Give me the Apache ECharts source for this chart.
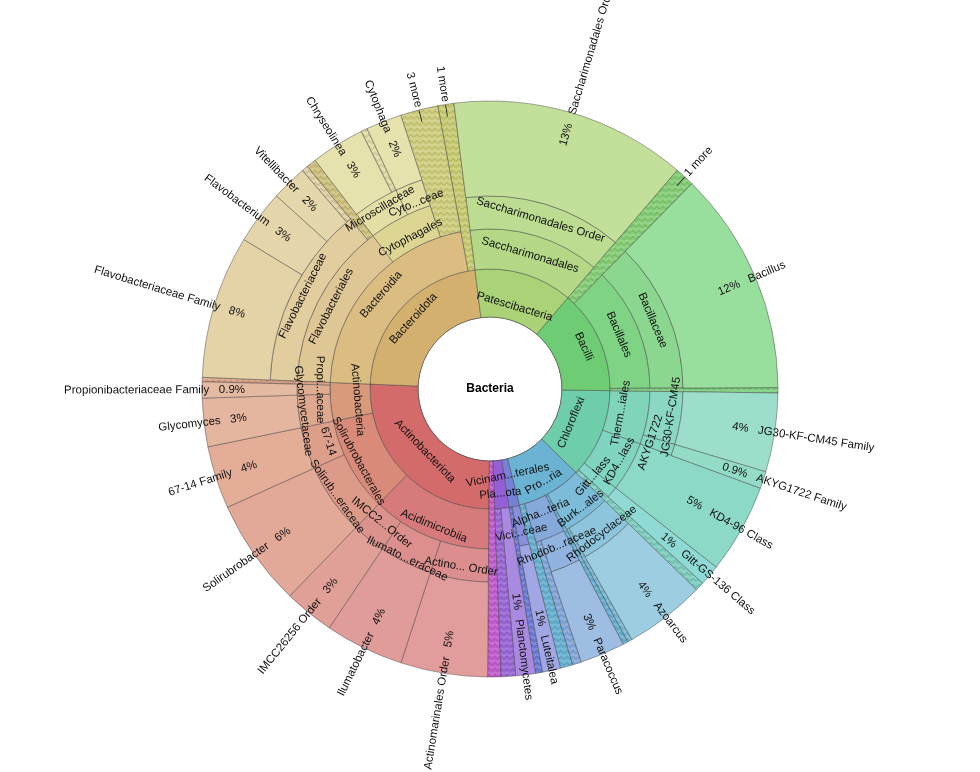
<!DOCTYPE html>
<html><head><meta charset="utf-8">
<script src="https://cdn.jsdelivr.net/npm/echarts@6/dist/echarts.min.js"></script>
<style>html,body{margin:0;padding:0;background:#fff}#c{width:980px;height:772px}</style>
</head><body><div id="c"></div>
<script>
// ---------------- data ----------------
const rootName = 'Bacteria';
// leaves, clockwise from 3 o'clock
const leafNames = [
  'JG30-KF-CM45 Family','AKYG1722 Family','KD4-96 Class','Gitt-GS-136 Class','',
  'Azoarcus','','','Paracoccus','','',
  'Luteitalea','',
  'Planctomycetes','',
  '',
  'Actinomarinales Order','Ilumatobacter','IMCC26256 Order','Solirubrobacter','67-14 Family','Glycomyces','Propionibacteriaceae Family','',
  'Flavobacteriaceae Family','Flavobacterium','Vitellibacter','','','Chryseolinea','','Cytophaga','3 more','1 more',
  'Saccharimonadales Order',
  '1 more','Bacillus',''
];
const leafValues = [
  4.4,0.95,5.0,1.15,0.5,
  4.5,0.25,0.3,2.5,0.5,0.7,
  1.0,0.4,
  1.1,0.8,
  0.75,
  4.85,4.4,2.8,6.0,3.5,2.7,0.9,0.25,
  8.0,3.0,2.0,0.35,0.55,3.0,0.35,2.0,2.1,0.9,
  13.2,
  1.1,12.5,0.3
];
const leafPercentLabels = [
  '4%','0.9%','5%','1%','',
  '4%','','','3%','','',
  '1%','',
  '1%','',
  '',
  '5%','4%','3%','6%','4%','3%','0.9%','',
  '8%','3%','2%','','','3%','','2%','','',
  '13%',
  '','12%',''
];
const leafLineages = [
  ['Chloroflexi','Therm...iales','JG30-KF-CM45'],['Chloroflexi','Therm...iales','AKYG1722'],['Chloroflexi','KD4...lass'],['Chloroflexi','Gitt...lass'],['Chloroflexi'],
  ['Pro...ria','Burk...ales','Rhodocyclaceae'],['Pro...ria','Burk...ales'],['Pro...ria'],['Pro...ria','Alpha...teria','Rhodob...raceae'],['Pro...ria','Alpha...teria'],['Pro...ria'],
  ['Vicinam...terales','Vici...ceae'],['Vicinam...terales'],
  ['Pla...ota'],['Pla...ota'],
  [],
  ['Actinobacteriota','Acidimicrobiia','Actino... Order'],['Actinobacteriota','Acidimicrobiia','Ilumato...eraceae'],['Actinobacteriota','Acidimicrobiia','IMCC2...Order'],
  ['Actinobacteriota','Solirubrobacterales','Solirub...eraceae'],['Actinobacteriota','Solirubrobacterales','67-14'],
  ['Actinobacteriota','Actinobacteria','Glycomycetaceae'],['Actinobacteriota','Actinobacteria','Propi...aceae'],['Actinobacteriota','Actinobacteria'],
  ['Bacteroidota','Bacteroidia','Flavobacteriales','Flavobacteriaceae'],['Bacteroidota','Bacteroidia','Flavobacteriales','Flavobacteriaceae'],['Bacteroidota','Bacteroidia','Flavobacteriales','Flavobacteriaceae'],['Bacteroidota','Bacteroidia','Flavobacteriales','Flavobacteriaceae'],['Bacteroidota','Bacteroidia','Flavobacteriales'],
  ['Bacteroidota','Bacteroidia','Cytophagales','Microscillaceae'],['Bacteroidota','Bacteroidia','Cytophagales','Microscillaceae'],['Bacteroidota','Bacteroidia','Cytophagales','Cyto...ceae'],['Bacteroidota','Bacteroidia'],['Bacteroidota'],
  ['Patescibacteria','Saccharimonadales','Saccharimonadales Order'],
  ['Bacilli'],['Bacilli','Bacillales','Bacillaceae'],['Bacilli']
];
// 'other' = unassigned / grouped remainder (drawn hatched)
const leafKinds = leafNames.map((n, i) => (leafPercentLabels[i] === '' ? 'other' : 'taxon'));

// ---------------- styles ----------------
const CENTER = [490, 389];
const RINGS = [[0, 72], [72, 120], [120, 160], [160, 193], [193, 220], [220, 288]];
const START_CW = 0.8; // degrees clockwise from 3 o'clock
const FONT = 'Liberation Sans, Arial, sans-serif';
const FS = 11.5;
const LINE = 'rgba(60,60,60,0.55)';
const innerColors = {
  'Chloroflexi':'#6fceaa','Therm...iales':'#7fd4ba','JG30-KF-CM45':'#8ad8c3','AKYG1722':'#86d7c3','KD4...lass':'#80d5c0','Gitt...lass':'#84d7c9',
  'Pro...ria':'#6ab3d3','Burk...ales':'#7dbcd8','Rhodocyclaceae':'#8cc5dc','Alpha...teria':'#86a9dc','Rhodob...raceae':'#90b3df',
  'Vicinam...terales':'#7580d6','Vici...ceae':'#8890dc','Pla...ota':'#9560d6',
  'Actinobacteriota':'#d36b6b','Acidimicrobiia':'#d77a7c','Actino... Order':'#dc8e8e','Ilumato...eraceae':'#dc8f8c','IMCC2...Order':'#dc928c',
  'Solirubrobacterales':'#d98a78','Solirub...eraceae':'#dd9a88','67-14':'#de9f8a',
  'Actinobacteria':'#d99a7c','Glycomycetaceae':'#dea88e','Propi...aceae':'#dfac90',
  'Bacteroidota':'#d3b06e','Bacteroidia':'#dbbd82','Flavobacteriales':'#dfc795','Flavobacteriaceae':'#e2cd9f',
  'Cytophagales':'#dcd692','Microscillaceae':'#e2dea4','Cyto...ceae':'#e2dea4',
  'Patescibacteria':'#aad277','Saccharimonadales':'#b4d886','Saccharimonadales Order':'#bcdc92',
  'Bacilli':'#6ecd74','Bacillales':'#7fd385','Bacillaceae':'#8bd790'
};
const leafColors = {
  'JG30-KF-CM45 Family':'#9cdecb','AKYG1722 Family':'#94dcc8','KD4-96 Class':'#8cd9c8','Gitt-GS-136 Class':'#90dad6',
  'Azoarcus':'#9dcde0','Paracoccus':'#9dbde3','Luteitalea':'#a1a6e4','Planctomycetes':'#a98ae0',
  'Actinomarinales Order':'#e19c9b','Ilumatobacter':'#e09c98','IMCC26256 Order':'#e0a098','Solirubrobacter':'#e2a898','67-14 Family':'#e3ad98',
  'Glycomyces':'#e4b6a0','Propionibacteriaceae Family':'#e5baa2',
  'Flavobacteriaceae Family':'#e4d3a7','Flavobacterium':'#e4d5aa','Vitellibacter':'#e4d7ab','Chryseolinea':'#e5e2ad','Cytophaga':'#e5e2ad',
  'Saccharimonadales Order':'#c3e09b','Bacillus':'#98de9c'
};
const otherColors = {
  '3 more':'#d0cf80', '1 more|Bacteroidota':'#c9cd74', '1 more|Bacilli':'#86cf78', '|root':'#c45ed0',
  '|Pla...ota':'#9b6ad8', '|Vicinam...terales':'#6f7ed8', '|Flavobacteriaceae':'#e0d2a6', '|Flavobacteriales':'#cfc27f',
  '|Microscillaceae':'#e0dda6', '|Chloroflexi':'#7fd0c0', '|Bacilli':'#7fcf80', '|Actinobacteria':'#dca48a'
};
const labelStart = { 1: 206, 2: 206, 3: 226, 4: 245, 5: 250 };
const labelStartOverride = { 'Saccharimonadales Order': 254, 'Flavobacteriaceae Family': 256, 'Bacillus': 248 };
// radius at which the name of an inner wedge is written (default: middle of its ring)
const labelRadius = {
  'Chloroflexi': 88, 'Bacilli': 103, 'Patescibacteria': 86, 'Bacteroidota': 104, 'Actinobacteriota': 90,
  'Pro...ria': 107, 'Pla...ota': 105, 'Vicinam...terales': 88,
  'Therm...iales': 133, 'KD4...lass': 148, 'Gitt...lass': 135, 'Alpha...teria': 134, 'Burk...ales': 150, 'Vici...ceae': 147,
  'Rhodob...raceae': 171, 'Rhodocyclaceae': 183, 'JG30-KF-CM45': 183, 'AKYG1722': 169,
  'Actinobacteria': 133, 'Solirubrobacterales': 150, 'Acidimicrobiia': 148,
  'Actino... Order': 180, 'Ilumato...eraceae': 189, 'IMCC2...Order': 172, 'Solirub...eraceae': 187, '67-14': 170,
  'Glycomycetaceae': 188, 'Propi...aceae': 170, 'Bacteroidia': 144, 'Flavobacteriales': 179, 'Flavobacteriaceae': 209,
  'Cytophagales': 171, 'Microscillaceae': 211, 'Cyto...ceae': 200
};

function hatch(color) {
  const c = document.createElement('canvas'); c.width = 6; c.height = 6;
  const g = c.getContext('2d');
  g.fillStyle = color; g.fillRect(0, 0, 6, 6);
  g.lineWidth = 1;
  g.strokeStyle = 'rgba(0,0,0,0.17)';
  g.beginPath(); g.moveTo(0, 5.5); g.lineTo(3, 2.5); g.lineTo(6, 5.5); g.stroke();
  g.strokeStyle = 'rgba(255,255,255,0.28)';
  g.beginPath(); g.moveTo(0, 2.5); g.lineTo(3, -0.5); g.lineTo(6, 2.5); g.stroke();
  return { image: c, repeat: 'repeat' };
}

// ---------------- build ----------------
const baseLabel = { fontFamily: FONT, fontSize: FS, color: '#111' };
function otherColor(i) {
  const lin = leafLineages[i];
  const parent = lin.length ? lin[lin.length - 1] : 'root';
  const nm = leafNames[i];
  return otherColors[nm + '|' + parent] || otherColors[nm] || otherColors['|' + parent] || innerColors[parent] || '#bbb';
}
function leafColor(i) { return leafKinds[i] === 'other' ? hatch(otherColor(i)) : (leafColors[leafNames[i]] || '#ccc'); }

const total = leafValues.reduce((a, b) => a + b, 0);
const cumBefore = [0];
leafValues.forEach(v => cumBefore.push(cumBefore[cumBefore.length - 1] + v));

const root = {
  name: rootName, children: [],
  itemStyle: { color: '#ffffff', borderColor: 'rgba(0,0,0,0.6)', borderWidth: 1 },
  label: Object.assign({}, baseLabel, { rotate: 0, fontWeight: 'bold', color: '#000', fontSize: 12 })
};
const index = new Map();
const innerList = [];
leafNames.forEach((nm, i) => {
  let parent = root, key = '';
  leafLineages[i].forEach((seg, d) => {
    key += '/' + seg;
    let node = index.get(key);
    if (!node) {
      node = { name: seg, children: [], itemStyle: { color: innerColors[seg] || '#ccc', borderColor: LINE, borderWidth: 0.8 }, label: { show: false } };
      index.set(key, node); parent.children.push(node);
      innerList.push({ name: seg, depth: d + 1, first: i, last: i });
      node._info = innerList[innerList.length - 1];
    }
    node._info.last = i;
    parent = node;
  });
  parent.children.push({ name: nm || ' ', value: leafValues[i], itemStyle: { color: 'rgba(0,0,0,0)', borderWidth: 0 }, label: { show: false } });
});
function strip(n) { delete n._info; (n.children || []).forEach(strip); }
strip(root);

const mids = leafValues.map((v, i) => { const m = START_CW + (cumBefore[i] + v / 2) / total * 360; return ((m % 360) + 360) % 360; });

const filler = v => ({ name: ' ', value: v, itemStyle: { color: 'rgba(0,0,0,0)', borderWidth: 0 }, label: { show: false } });
const common = { type: 'sunburst', center: CENTER, startAngle: -START_CW, clockwise: true, sort: null, nodeClick: false, silent: true, emphasis: { disabled: true } };

// leaf wedges: one layer per starting ring, each running out to the rim
const overlays = [];
for (let k = 1; k <= 5; k++) {
  const items = leafNames.map((nm, i) => {
    const startRing = leafLineages[i].length + 1;
    if (startRing !== k) return filler(leafValues[i]);
    const flip = mids[i] > 90 && mids[i] < 270;
    const it = { name: nm || ' ', value: leafValues[i], itemStyle: { color: leafColor(i), borderColor: LINE, borderWidth: 0.8 } };
    if (leafKinds[i] === 'taxon') {
      const st = labelStartOverride[nm] || labelStart[k];
      const txt = flip ? nm + '   ' + leafPercentLabels[i] : leafPercentLabels[i] + '   ' + nm;
      it.label = Object.assign({}, baseLabel, { show: true, rotate: 'radial', align: 'left', distance: st - RINGS[k][0], formatter: txt });
    } else if (nm) {
      const txt = flip ? nm + ' \u2014' : '\u2014 ' + nm;
      it.label = Object.assign({}, baseLabel, { show: true, rotate: 'radial', position: 'outside', distance: -12, formatter: txt });
    } else {
      it.label = { show: false };
    }
    return it;
  });
  overlays.push(Object.assign({}, common, { radius: [RINGS[k][0], RINGS[5][1]], data: items }));
}

// names of inner wedges
const labelSeries = innerList.map(n => {
  const before = cumBefore[n.first];
  const span = cumBefore[n.last + 1] - before;
  const after = total - before - span;
  const rr = labelRadius[n.name] || (RINGS[n.depth][0] + RINGS[n.depth][1]) / 2;
  const data = [];
  if (before > 0) data.push(filler(before));
  data.push({ name: n.name, value: span, itemStyle: { color: 'rgba(0,0,0,0)', borderWidth: 0 },
              label: Object.assign({}, baseLabel, { show: true, rotate: 'tangential' }) });
  if (after > 1e-9) data.push(filler(after));
  return Object.assign({}, common, { radius: [rr - 1, rr + 1], data: data });
});

const levels = [{}].concat(RINGS.map(r => ({ r0: r[0], r: r[1] })));
const chart = echarts.init(document.getElementById('c'), null, { renderer: 'canvas' });
chart.setOption({
  animation: false,
  backgroundColor: '#ffffff',
  series: [Object.assign({}, common, { levels: levels, data: [root] })].concat(overlays, labelSeries)
});
</script></body></html>
